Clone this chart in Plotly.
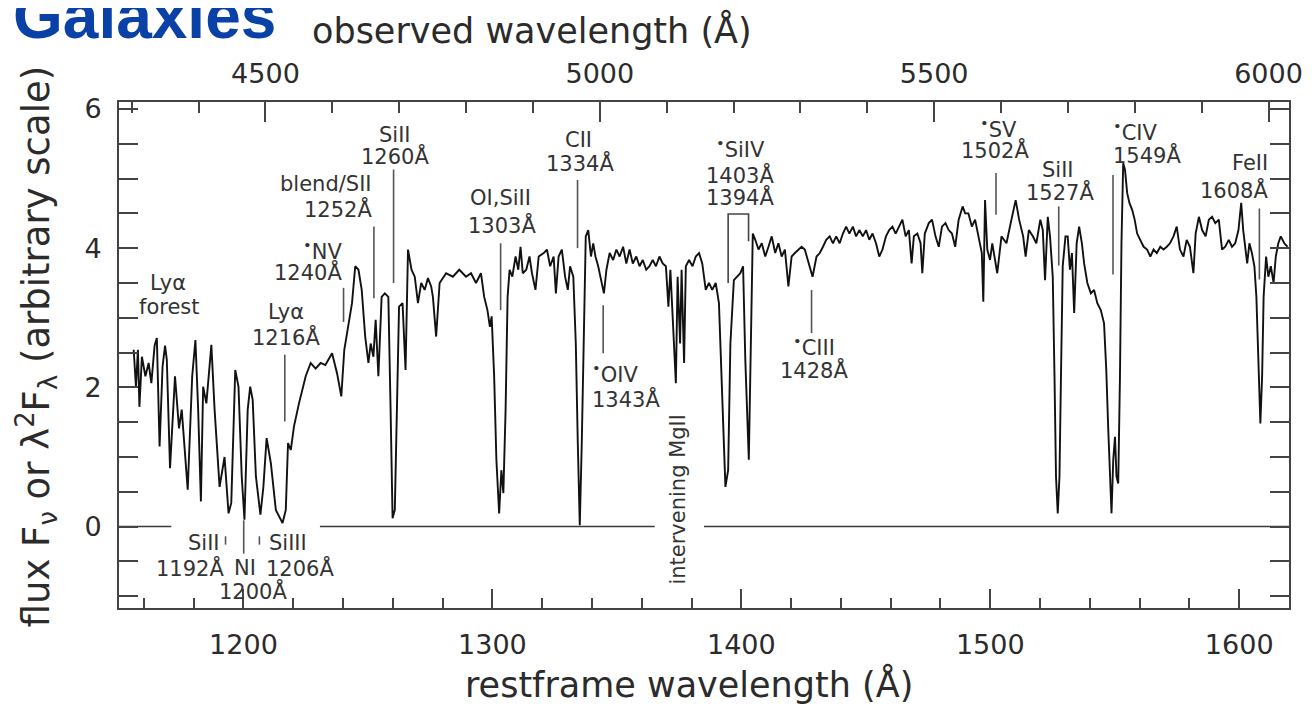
import plotly.graph_objects as go

# ---------------- data ----------------
one_plus_z = 3.7226
x_range_rest = [1150, 1620]
y_range = [-1.17, 6.1]

rest_wavelength = [
    1155.9, 1156.8, 1157.6, 1158.2, 1159.2, 1160.6, 1161.9, 1163.0, 1164.3, 1165.2,
    1166.3, 1167.5, 1168.5, 1169.2, 1170.5, 1172.5, 1174.1, 1175.2, 1177.6, 1179.4,
    1180.7, 1181.8, 1182.9, 1183.8, 1185.1, 1187.1, 1188.4, 1190.4, 1192.4, 1194.0,
    1195.1, 1196.7, 1198.0, 1199.3, 1200.4, 1201.7, 1202.7, 1203.7, 1205.0, 1206.8,
    1208.0, 1209.3, 1211.0, 1213.0, 1215.7, 1217.0, 1217.9, 1219.0, 1220.3, 1222.3,
    1225.0, 1227.0, 1229.0, 1231.0, 1232.9, 1235.6, 1237.6, 1239.3, 1240.5, 1242.2,
    1243.6, 1244.9, 1246.2, 1247.5, 1248.9, 1250.2, 1251.1, 1252.2, 1253.1, 1254.2,
    1255.5, 1256.8, 1258.2, 1259.1, 1259.9, 1260.8, 1261.7, 1262.5, 1263.9, 1265.1,
    1266.1, 1267.5, 1268.8, 1270.1, 1271.4, 1272.8, 1274.1, 1275.4,
    1276.1, 1277.4, 1278.8, 1281.4, 1284.1, 1286.7, 1289.4, 1291.4, 1293.4, 1295.4,
    1296.7, 1298.0, 1299.0, 1299.7, 1300.7, 1301.6, 1302.7, 1303.6, 1304.4, 1305.3,
    1306.1, 1306.9, 1308.0, 1309.3, 1310.4, 1311.3, 1312.2, 1313.6, 1314.9, 1315.9,
    1317.3, 1318.6, 1320.6, 1321.9, 1323.2, 1324.6, 1325.5, 1326.6, 1327.9, 1329.2,
    1330.3, 1331.2, 1332.5, 1333.5, 1334.3, 1335.1, 1335.9, 1336.8, 1337.5, 1338.5,
    1339.6, 1340.5, 1341.4, 1342.5, 1343.8, 1344.8, 1345.8, 1347.1, 1348.5, 1349.8,
    1351.1, 1352.5, 1353.8, 1355.1, 1356.4, 1357.8, 1359.1, 1360.4, 1361.8, 1363.1,
    1364.4, 1365.7, 1367.1, 1368.4, 1369.7, 1370.7, 1371.5, 1372.8, 1373.7, 1374.4,
    1375.4, 1376.0, 1377.0, 1377.7, 1379.0, 1380.4, 1381.7, 1383.0, 1384.3, 1385.7,
    1387.0, 1388.3, 1389.7, 1391.0, 1392.3, 1393.6, 1394.7, 1395.6, 1397.0, 1398.3,
    1399.6, 1400.7, 1401.6, 1403.0, 1403.9, 1404.6, 1405.6,
    1406.9, 1408.2, 1409.6, 1410.9, 1412.2, 1413.6, 1414.9, 1416.2, 1417.5, 1418.9,
    1420.2, 1421.5, 1422.9, 1424.2, 1425.5, 1426.8, 1428.6, 1430.2, 1431.5, 1432.8,
    1434.1, 1435.5, 1436.8, 1438.1, 1439.5, 1440.8, 1442.1, 1443.4, 1444.8, 1446.1,
    1447.4, 1448.8, 1450.1, 1451.4, 1452.7, 1454.1, 1455.4, 1456.7, 1458.1, 1459.4,
    1460.7, 1462.0, 1463.4, 1464.7, 1466.0, 1467.3, 1468.4, 1469.3, 1470.7, 1472.0,
    1472.7, 1473.7, 1475.3, 1476.6, 1478.0, 1479.3, 1480.6, 1482.0, 1483.3, 1484.6,
    1485.9, 1487.3, 1488.9, 1489.9, 1491.2, 1492.6, 1493.9, 1495.2, 1496.6, 1497.2,
    1497.9, 1498.8, 1499.9, 1500.8,
    1501.2, 1502.8, 1504.5, 1506.5, 1508.5, 1510.2, 1511.6, 1513.2, 1514.2, 1515.5,
    1517.1, 1518.5, 1520.1, 1521.1, 1522.0, 1523.1, 1524.0, 1525.1, 1525.8, 1526.4,
    1527.1, 1527.8, 1528.4, 1529.1, 1530.2, 1531.1, 1532.0, 1532.8, 1533.7, 1534.7,
    1535.7, 1536.8, 1537.7, 1539.0, 1540.4, 1541.7, 1543.0, 1544.4, 1545.7, 1546.6,
    1547.4, 1548.1, 1548.7, 1549.4, 1550.1, 1550.7, 1551.4, 1552.1, 1552.7, 1553.4,
    1554.1, 1555.0, 1555.9, 1557.0, 1558.0, 1559.0, 1560.3, 1561.6, 1563.0, 1564.3,
    1565.6, 1566.9, 1568.3, 1569.6, 1570.9, 1572.2, 1573.6, 1574.9, 1576.2, 1577.6,
    1578.9, 1580.2, 1581.6, 1582.5, 1583.8, 1585.1, 1586.5, 1587.8, 1589.1, 1590.4,
    1591.8, 1593.1, 1594.4, 1595.8, 1597.1, 1598.4, 1599.7, 1600.8, 1601.6, 1602.4,
    1603.2, 1604.1, 1605.1, 1606.1, 1606.9, 1607.7, 1608.5, 1609.2, 1609.8, 1610.8,
    1611.7, 1612.7, 1613.8, 1614.7, 1615.7, 1616.7, 1618.1, 1619.4,
]

flux = [
    2.54, 2.01, 2.54, 1.72, 2.44, 2.16, 2.35, 2.06, 2.60, 2.71,
    1.15, 2.30, 2.60, 2.40, 0.84, 2.16, 1.41, 1.68, 0.53, 2.16,
    2.68, 1.68, 0.36, 2.01, 1.77, 2.61, 1.68, 0.57, 1.00, 0.19,
    0.34, 2.25, 2.01, 0.72, 0.10, 1.68, 2.01, 1.82, 0.72, 0.17,
    0.57, 1.27, 0.91, 0.24, 0.05, 0.24, 1.20, 1.10, 1.44, 1.77,
    2.16, 2.35, 2.27, 2.35, 2.32, 2.49, 2.20, 1.87, 2.54, 2.92,
    3.21, 3.74, 3.69, 3.40, 2.73, 2.35, 2.63, 2.44, 2.97, 2.16,
    3.30, 3.35, 3.30, 1.68, 0.12, 0.24, 1.68, 3.16, 3.21, 2.25,
    3.98, 3.69, 3.59, 3.21, 3.50, 3.40, 3.57, 3.45,
    3.30, 2.73, 3.50, 3.64, 3.59, 3.69, 3.59, 3.64, 3.50, 3.64,
    3.30, 3.11, 2.87, 3.02, 2.16, 0.96, 0.19, 0.81, 0.48, 1.68,
    3.30, 3.69, 3.59, 3.88, 3.69, 4.02, 3.64, 3.69, 3.88, 3.64,
    3.40, 3.88, 3.93, 3.98, 3.74, 3.88, 3.35, 3.88, 3.98, 3.59,
    3.40, 3.74, 3.59, 2.63, 1.20, 0.02, 1.20, 3.11, 4.17, 4.26,
    3.88, 4.07, 3.88, 3.74, 3.54, 3.35, 3.69, 3.93, 3.83, 3.98,
    3.88, 4.02, 3.78, 3.98, 3.78, 3.88, 3.74, 3.83, 3.69, 3.74,
    3.83, 3.74, 3.88, 3.78, 3.74, 3.16, 3.69, 2.63, 2.06, 3.59,
    2.63, 3.69, 2.35, 3.74, 3.83, 3.74, 3.88, 3.93, 3.78, 3.40,
    3.50, 3.40, 3.50, 3.21, 1.92, 0.57, 0.81, 2.63, 3.54, 3.59,
    3.64, 3.74, 2.39, 0.96, 2.63, 4.21, 4.12,
    3.98, 4.07, 3.88, 4.02, 4.17, 3.93, 4.07, 3.88, 3.98, 3.45,
    3.88, 3.93, 3.98, 4.02, 3.98, 3.83, 3.59, 3.88, 3.93, 4.02,
    4.12, 4.17, 4.07, 4.17, 4.07, 4.21, 4.31, 4.21, 4.31, 4.17,
    4.26, 4.17, 4.26, 4.12, 4.21, 4.07, 3.88, 3.98, 4.17, 4.26,
    4.31, 4.21, 4.31, 4.41, 4.17, 4.26, 3.78, 4.17, 4.21, 4.07,
    3.64, 4.21, 4.36, 4.41, 4.17, 4.02, 4.31, 4.36, 4.26, 4.21,
    4.02, 4.41, 4.60, 4.50, 4.50, 4.31, 4.41, 4.17, 3.93, 3.23,
    4.69, 3.98, 3.83, 4.07,
    3.98, 3.64, 4.17, 4.07, 4.41, 4.69, 4.41, 4.17, 3.88, 4.26,
    4.17, 4.07, 4.41, 4.26, 3.54, 4.45, 4.17, 3.59, 2.16, 0.72,
    0.19, 0.72, 2.16, 3.74, 4.17, 4.17, 3.69, 3.93, 3.07, 4.07,
    4.31, 4.07, 3.78, 3.50, 3.35, 3.40, 3.21, 3.11, 2.92, 2.25,
    1.39, 0.62, 0.19, 0.96, 1.29, 0.72, 0.62, 2.16, 4.07, 5.22,
    5.13, 4.79, 4.65, 4.55, 4.41, 4.21, 4.12, 4.02, 3.98, 3.88,
    3.98, 3.93, 4.02, 3.98, 4.02, 4.07, 4.17, 4.31, 3.98, 3.88,
    4.12, 4.02, 3.64, 4.21, 4.45, 4.26, 4.17, 4.41, 4.45, 4.36,
    4.41, 3.98, 4.02, 4.12, 4.02, 4.07, 4.26, 4.65, 4.26, 3.98,
    3.78, 4.07, 3.93, 3.74, 3.30, 2.39, 1.48, 2.16, 3.30, 3.88,
    3.59, 3.74, 3.50, 3.88, 4.07, 4.17, 4.07, 4.02,
]

# line identifications: text rows, anchored in data units
label_text = [
    "Lyα", "forest", "Lyα", "1216Å", "<sup>•</sup>NV", "1240Å", "blend/SII", "1252Å",
    "SiII", "1260Å", "OI,SiII", "1303Å", "CII", "1334Å", "<sup>•</sup>OIV", "1343Å",
    "<sup>•</sup>SiIV", "1403Å", "1394Å", "<sup>•</sup>CIII", "1428Å", "<sup>•</sup>SV", "1502Å",
    "SiII", "1527Å", "<sup>•</sup>CIV", "1549Å", "FeII", "1608Å",
    "SiII", "1192Å", "NI", "1200Å", "SiIII", "1206Å",
]
label_x = [
    1169.7, 1170.3, 1217.0, 1217.0, 1240.4, 1240.4, 1252.6, 1252.6,
    1260.8, 1260.8, 1303.3, 1304.0, 1334.5, 1335.0, 1339.4, 1339.4,
    1399.6, 1399.6, 1399.6, 1429.1, 1429.1, 1503.2, 1501.9,
    1527.4, 1528.0, 1548.3, 1548.3, 1612.3, 1612.3,
    1191.2, 1192.8, 1200.6, 1204.0, 1209.6, 1208.1,
]
label_y = [
    3.50, 3.16, 3.09, 2.73, 3.98, 3.66, 4.92, 4.56,
    5.63, 5.32, 4.72, 4.33, 5.56, 5.22, 2.20, 1.84,
    5.44, 5.05, 4.74, 2.59, 2.25, 5.72, 5.41,
    5.13, 4.81, 5.68, 5.34, 5.22, 4.84,
    -0.24, -0.60, -0.60, -0.93, -0.24, -0.60,
]
label_anchor = [
    "center", "center", "center", "center", "right", "right", "right", "right",
    "center", "center", "center", "center", "center", "center", "left", "left",
    "center", "center", "center", "center", "center", "center", "center",
    "center", "center", "left", "left", "right", "right",
    "right", "right", "center", "center", "left", "left",
]

# identification tick lines: wavelength, top, bottom
marker_wavelength = [1216.6, 1240.2, 1252.4, 1260.3, 1303.3, 1334.2, 1344.5, 1428.2,
                     1502.3, 1527.5, 1549.3, 1608.1, 1192.8, 1200.1, 1206.4]
marker_top = [2.47, 3.43, 4.31, 5.13, 4.07, 4.98, 3.18, 3.40,
              5.08, 4.60, 5.05, 4.57, -0.14, 0.09, -0.14]
marker_bottom = [1.51, 2.94, 3.28, 3.50, 3.11, 4.00, 2.49, 2.78,
                 4.48, 3.75, 3.62, 3.55, -0.26, -0.39, -0.26]

# SiIV doublet bracket
siiv_bracket_x = [1394.7, 1394.7, 1402.9, 1402.9]
siiv_bracket_y = [3.50, 4.49, 4.49, 4.10]

# zero-flux level segments
zero_segments = [(1150, 1171), (1230.7, 1365.2), (1385.0, 1620)]

intervening_text = "intervening MgII"
intervening_pos = (1374.5, 0.40)

# ---------------- figure ----------------
INK = "#2b2b2b"
FRAME = "#444444"
FONT = "DejaVu Sans"

fig = go.Figure()

# zero line
zx, zy = [], []
for a, b in zero_segments:
    zx += [a, b, None]
    zy += [0, 0, None]
fig.add_trace(go.Scatter(x=zx, y=zy, mode="lines",
                         line=dict(color="#3a3a3a", width=1.6), hoverinfo="skip"))

# identification ticks
mx, my = [], []
for w, t, b in zip(marker_wavelength, marker_top, marker_bottom):
    mx += [w, w, None]
    my += [t, b, None]
fig.add_trace(go.Scatter(x=mx, y=my, mode="lines",
                         line=dict(color="#555555", width=1.6), hoverinfo="skip"))

fig.add_trace(go.Scatter(x=siiv_bracket_x, y=siiv_bracket_y, mode="lines",
                         line=dict(color="#444444", width=1.6), hoverinfo="skip"))

# spectrum
fig.add_trace(go.Scatter(x=rest_wavelength, y=flux, mode="lines",
                         line=dict(color="#111111", width=1.9), name="spectrum"))

# anchor for the observed-wavelength axis
fig.add_trace(go.Scatter(x=[v * one_plus_z for v in x_range_rest], y=[0, 0],
                         xaxis="x2", mode="markers", marker=dict(opacity=0),
                         hoverinfo="skip", showlegend=False))

for t, x, y, a in zip(label_text, label_x, label_y, label_anchor):
    fig.add_annotation(x=x, y=y, xref="x", yref="y", text=t, showarrow=False,
                       xanchor=a, yanchor="middle",
                       font=dict(family=FONT, size=21, color="#333333"))

fig.add_annotation(x=intervening_pos[0], y=intervening_pos[1], xref="x", yref="y",
                   text=intervening_text, showarrow=False, textangle=-90,
                   xanchor="center", yanchor="middle",
                   font=dict(family=FONT, size=21, color="#333333"))

# axis titles and heading
fig.add_annotation(x=0.487, y=-0.150, xref="paper", yref="paper",
                   xanchor="center", yanchor="middle",
                   text="restframe wavelength (Å)", showarrow=False,
                   font=dict(family=FONT, size=35, color=INK))
fig.add_annotation(x=0.353, y=1.143, xref="paper", yref="paper",
                   xanchor="center", yanchor="middle",
                   text="observed wavelength (Å)", showarrow=False,
                   font=dict(family=FONT, size=35, color=INK))
fig.add_annotation(x=-0.071, y=0.517, xref="paper", yref="paper", textangle=-90,
                   xanchor="center", yanchor="middle",
                   text="flux F<sub>ν</sub> or λ<sup>2</sup>F<sub>λ</sub> (arbitrary scale)",
                   showarrow=False, font=dict(family=FONT, size=37, color=INK))
fig.add_annotation(x=-0.092, y=1.170, xref="paper", yref="paper", xanchor="left",
                   yanchor="middle", text="<b>Galaxies</b>", showarrow=False,
                   font=dict(family="Liberation Sans", size=64, color="#0a41a6"))

axis_common = dict(showgrid=False, zeroline=False, showline=True,
                   linecolor=FRAME, linewidth=2, ticks="inside",
                   tickcolor=FRAME, tickwidth=1.6,
                   tickfont=dict(family=FONT, size=27, color=INK))

# the page adds an 8 px body margin, so the figure is 8 px smaller than the window
fig.update_layout(
    width=1307, height=699,
    margin=dict(l=111, r=16, t=94, b=99),
    paper_bgcolor="white", plot_bgcolor="white",
    showlegend=False,
    xaxis=dict(range=x_range_rest, dtick=100, tick0=1000, ticklen=19,
               minor=dict(dtick=20, ticklen=10, ticks="inside", tickcolor=FRAME, tickwidth=1.6),
               ticklabelstandoff=12, **axis_common),
    xaxis2=dict(range=[v * one_plus_z for v in x_range_rest], overlaying="x", side="top",
                anchor="y", dtick=500, tick0=0, ticklen=20,
                minor=dict(dtick=100, ticklen=11, ticks="inside", tickcolor=FRAME, tickwidth=1.6),
                ticklabelstandoff=6, **axis_common),
    yaxis=dict(range=y_range, dtick=2, tick0=0, ticklen=19, mirror="allticks",
               minor=dict(dtick=0.5, ticklen=10, ticks="inside", tickcolor=FRAME, tickwidth=1.6),
               ticklabelstandoff=10, **axis_common),
)

fig.write_html("out.html")
